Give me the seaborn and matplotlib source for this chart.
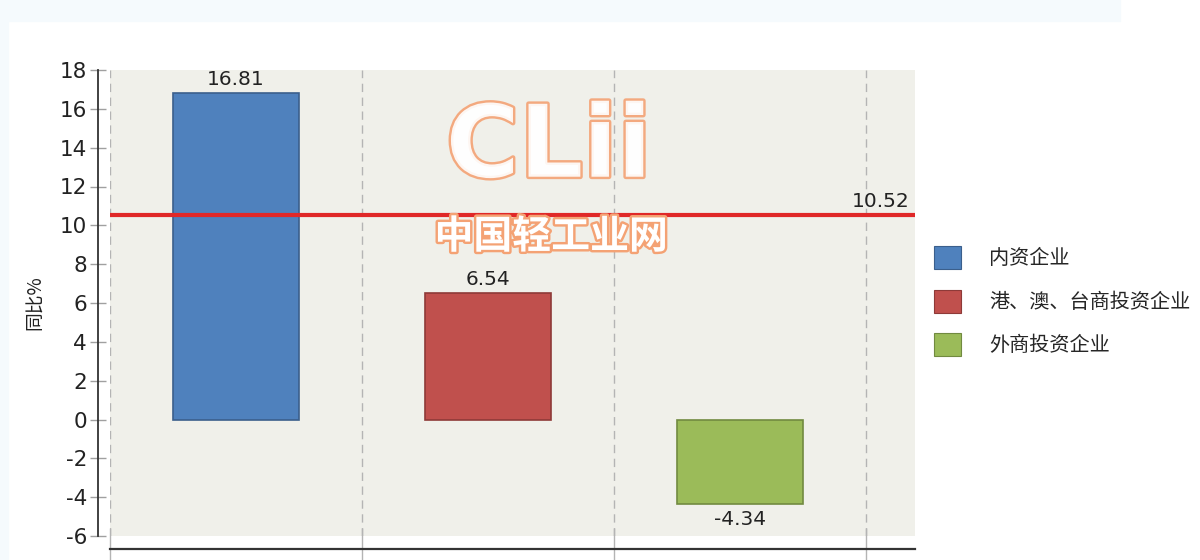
import matplotlib
matplotlib.use("Agg")
import matplotlib.pyplot as plt
import matplotlib.patheffects as pe
from matplotlib.patches import Patch, Rectangle
import seaborn as sns
import pandas as pd

# ---- data ----
categories = ["内资企业", "港、澳、台商投资企业", "外商投资企业"]
values = [16.81, 6.54, -4.34]
average_value = 10.52
bar_colors = ["#4f81bd", "#c0504d", "#9bbb59"]
edge_colors = ["#3b5f8c", "#8e3a38", "#718a40"]
y_ticks = list(range(-6, 19, 2))
y_label = "同比%"

sns.set_theme(style="white")
plt.rcParams["font.family"] = ["DejaVu Sans", "Noto Sans CJK SC"]
cjk = ["Noto Sans CJK SC", "DejaVu Sans"]

fig = plt.figure(figsize=(12, 5.6), dpi=100)
fig.patch.set_facecolor("white")
# light frame strips of the original screenshot
fig.patches.append(Rectangle((0, 1 - 21 / 560), 1120 / 1200, 21 / 560,
                             transform=fig.transFigure, color="#f5fafd", zorder=0))
fig.patches.append(Rectangle((0, 0), 8 / 1200, 1, transform=fig.transFigure,
                             color="#f5fafd", zorder=0))

ax = fig.add_axes([110 / 1200, 24 / 560, (915 - 110) / 1200, (536 - 70) / 560])
ax.set_facecolor("#f0f0ea")

df = pd.DataFrame({"cat": categories, "val": values})
sns.barplot(data=df, x="cat", y="val", hue="cat", palette=bar_colors,
            width=0.5, ax=ax, legend=False, saturation=1, zorder=3)
for p, ec in zip(ax.patches, edge_colors):
    p.set_edgecolor(ec)
    p.set_linewidth(1.2)

# bar labels
for i, v in enumerate(values):
    if v >= 0:
        ax.text(i, v + 0.2, f"{v:.2f}", ha="center", va="bottom",
                fontsize=14.5, color="#222222")
    else:
        ax.text(i, v - 0.3, f"{v:.2f}", ha="center", va="top",
                fontsize=14.5, color="#222222")

# average line
ax.axhline(average_value, color="#e02828", lw=3, zorder=4)
ax.text(2.675, average_value + 0.2, f"{average_value:.2f}", ha="right",
        va="bottom", fontsize=14.5, color="#222222", zorder=5)

ax.set_ylim(-6, 18)
ax.set_xlim(-0.5, 2.695)
ax.set_yticks(y_ticks)
ax.set_yticklabels([str(t) for t in y_ticks])
ax.set_xticks([-0.5, 0.5, 1.5, 2.5])
ax.set_xticklabels([])
ax.set_xlabel("")
ax.set_ylabel(y_label, fontsize=13.5, family=cjk, color="#222222", labelpad=10)

ax.xaxis.grid(True, linestyle=(0, (6, 4)), color="#b4b4b4", lw=1)
ax.yaxis.grid(False)
ax.set_axisbelow(True)

for s in ["top", "right"]:
    ax.spines[s].set_visible(False)
ax.spines["left"].set_position(("outward", 8.6))
ax.spines["bottom"].set_position(("outward", 9.4))
ax.spines["left"].set_color("#333333")
ax.spines["bottom"].set_color("#333333")
ax.spines["left"].set_linewidth(1.3)
ax.spines["bottom"].set_linewidth(1.6)
ax.tick_params(axis="y", direction="inout", length=12, width=1, color="#a0a0a0",
               pad=2, left=True, labelsize=15.5, labelcolor="#222222")
ax.tick_params(axis="x", direction="inout", length=30, width=1, color="#b4b4b4",
               bottom=True)

# legend
handles = [Patch(facecolor=c, edgecolor=ec, lw=0.8) for c, ec in zip(bar_colors, edge_colors)]
fig.legend(handles, categories, loc="upper left",
           bbox_to_anchor=(926 / 1200, 1 - 238 / 560), frameon=False,
           prop={"family": cjk, "size": 14.5}, handlelength=1.35, handleheight=1.4,
           labelspacing=1.0, handletextpad=1.4, borderaxespad=0)

# watermark
wm_fx = [pe.withStroke(linewidth=3.5, foreground="#f4a274")]
ax.text(0.545, 0.83, "CLii", transform=ax.transAxes, ha="center", va="center",
        fontsize=72, fontweight="bold", color="white", alpha=0.9,
        path_effects=wm_fx, zorder=6)
ax.text(0.548, 0.642, "中国轻工业网", transform=ax.transAxes, ha="center",
        va="center", fontsize=28, fontweight="bold", color="white", family=cjk,
        path_effects=wm_fx, zorder=6)

fig.savefig("out.png", dpi=100)
